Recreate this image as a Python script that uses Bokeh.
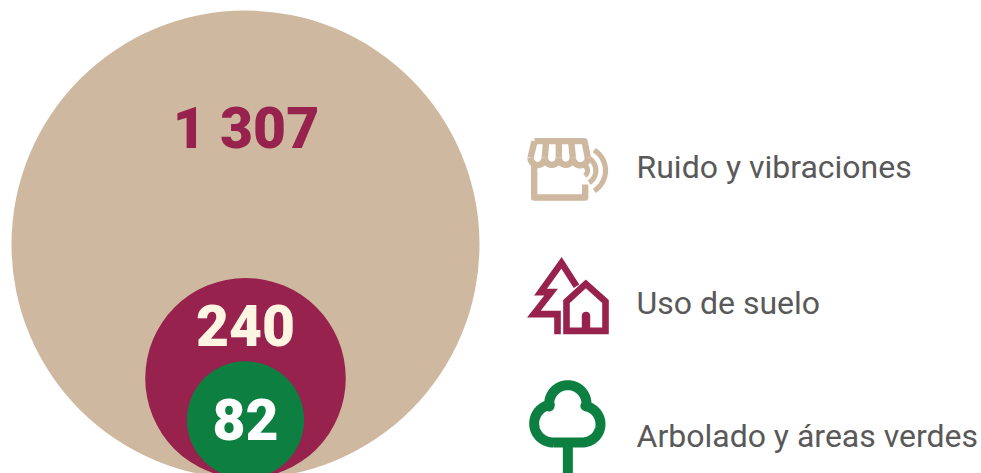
import numpy as np
from bokeh.core.properties import value
from bokeh.embed import file_html
from bokeh.models import Range1d
from bokeh.plotting import figure
from bokeh.resources import INLINE

categories = ["Ruido y vibraciones", "Uso de suelo", "Arbolado y áreas verdes"]
values = [1307, 240, 82]
value_labels = ["1 307", "240", "82"]
colors = ["#CFB8A0", "#98224E", "#0C7F41"]
label_colors = ["#98224E", "#FFF5E3", "#FFFFFF"]
text_color = "#595959"

# The plot's data units are the window's pixels.
p = figure(width=981, height=473, output_backend="svg", toolbar_location=None,
           x_range=Range1d(0, 981), y_range=Range1d(473, 0),
           min_border=0, outline_line_color=None, background_fill_color=None,
           border_fill_color=None)
p.axis.visible = False
p.grid.visible = False

# Circles: area proportional to value, all resting on the same bottom point.
k = 234 / np.sqrt(values[0])
radii = [k * np.sqrt(v) for v in values]
bottom, cx = 478.0, 245.0
centers = [bottom - r for r in radii]
p.circle(x=[cx] * 3, y=centers, radius=radii, fill_color=colors, line_color=None)

label_y = [128, 324.5, 418.5]
p.text(x=[245.5, 245, 245], y=label_y, text=value_labels, text_color=label_colors,
       text_font=value("Roboto Black, Roboto"), text_font_style="bold", text_font_size="57px",
       text_align="center", text_baseline="middle")

p.text(x=[636] * 3, y=[166, 302, 435], text=categories, text_color=text_color,
       text_font=value("Roboto"), text_font_size="32px",
       text_align="left", text_baseline="middle")


def arc(cx_, cy_, r, a0, a1, n=40):
    t = np.radians(np.linspace(a0, a1, n))
    return list(cx_ + r * np.cos(t)), list(cy_ + r * np.sin(t))


def stroke(paths, ox, oy, color, width, join="round", cap="butt"):
    xs = [[ox + x / 3 for x in path[0]] for path in paths]
    ys = [[oy + y / 3 for y in path[1]] for path in paths]
    p.multi_line(xs, ys, line_color=color, line_width=width,
                 line_join=join, line_cap=cap)


# Store icon
store = [([72, 222, 232], [62, 62, 112]), ([72, 60], [62, 112])]
for a, b in [(107, 103), (145, 145), (182, 187)]:
    store.append(([a, b], [62, 112]))
for c, r in [(81.5, 21.5), (124, 21), (166, 21), (209.5, 22.5)]:
    store.append(arc(c, 112, r, 180, 0))
store.append(([71, 71, 224, 224], [130, 231, 231, 192]))
stroke(store, 510, 120, colors[0], 6.4)
waves = [arc(213, 150, r, -58, 58) for r in (18, 43, 72)]
stroke(waves, 510, 120, colors[0], 5.2)

# Tree and house icon
tree = [([198, 153, 90, 122, 70, 141, 141], [122, 52, 140, 140, 206, 206, 266])]
stroke(tree, 510, 245, colors[1], 6.6, join="miter")
house = [([168, 168, 226, 285, 285, 168, 168], [256, 168, 115, 168, 256, 256, 168])]
stroke(house, 510, 245, colors[1], 6.6, join="miter")
stroke([([226.5, 226.5], [211, 250])], 510, 245, colors[1], 8.4, cap="round")

# Tree icon: the crown is one continuous outline
left_x, left_y = arc(128, 159, 57, 90, 260)
top_x, top_y = arc(172, 100, 56, 172, 368)
right_x, right_y = arc(215, 161, 55, -80, 90)
crown_x = left_x + top_x + right_x + left_x[:1]
crown_y = left_y + top_y + right_y + left_y[:1]
stroke([(crown_x, crown_y)], 510, 370, colors[2], 10)
stroke([([172, 172], [216, 320])], 510, 370, colors[2], 10)

open("out.html", "w").write(file_html(p, INLINE))
